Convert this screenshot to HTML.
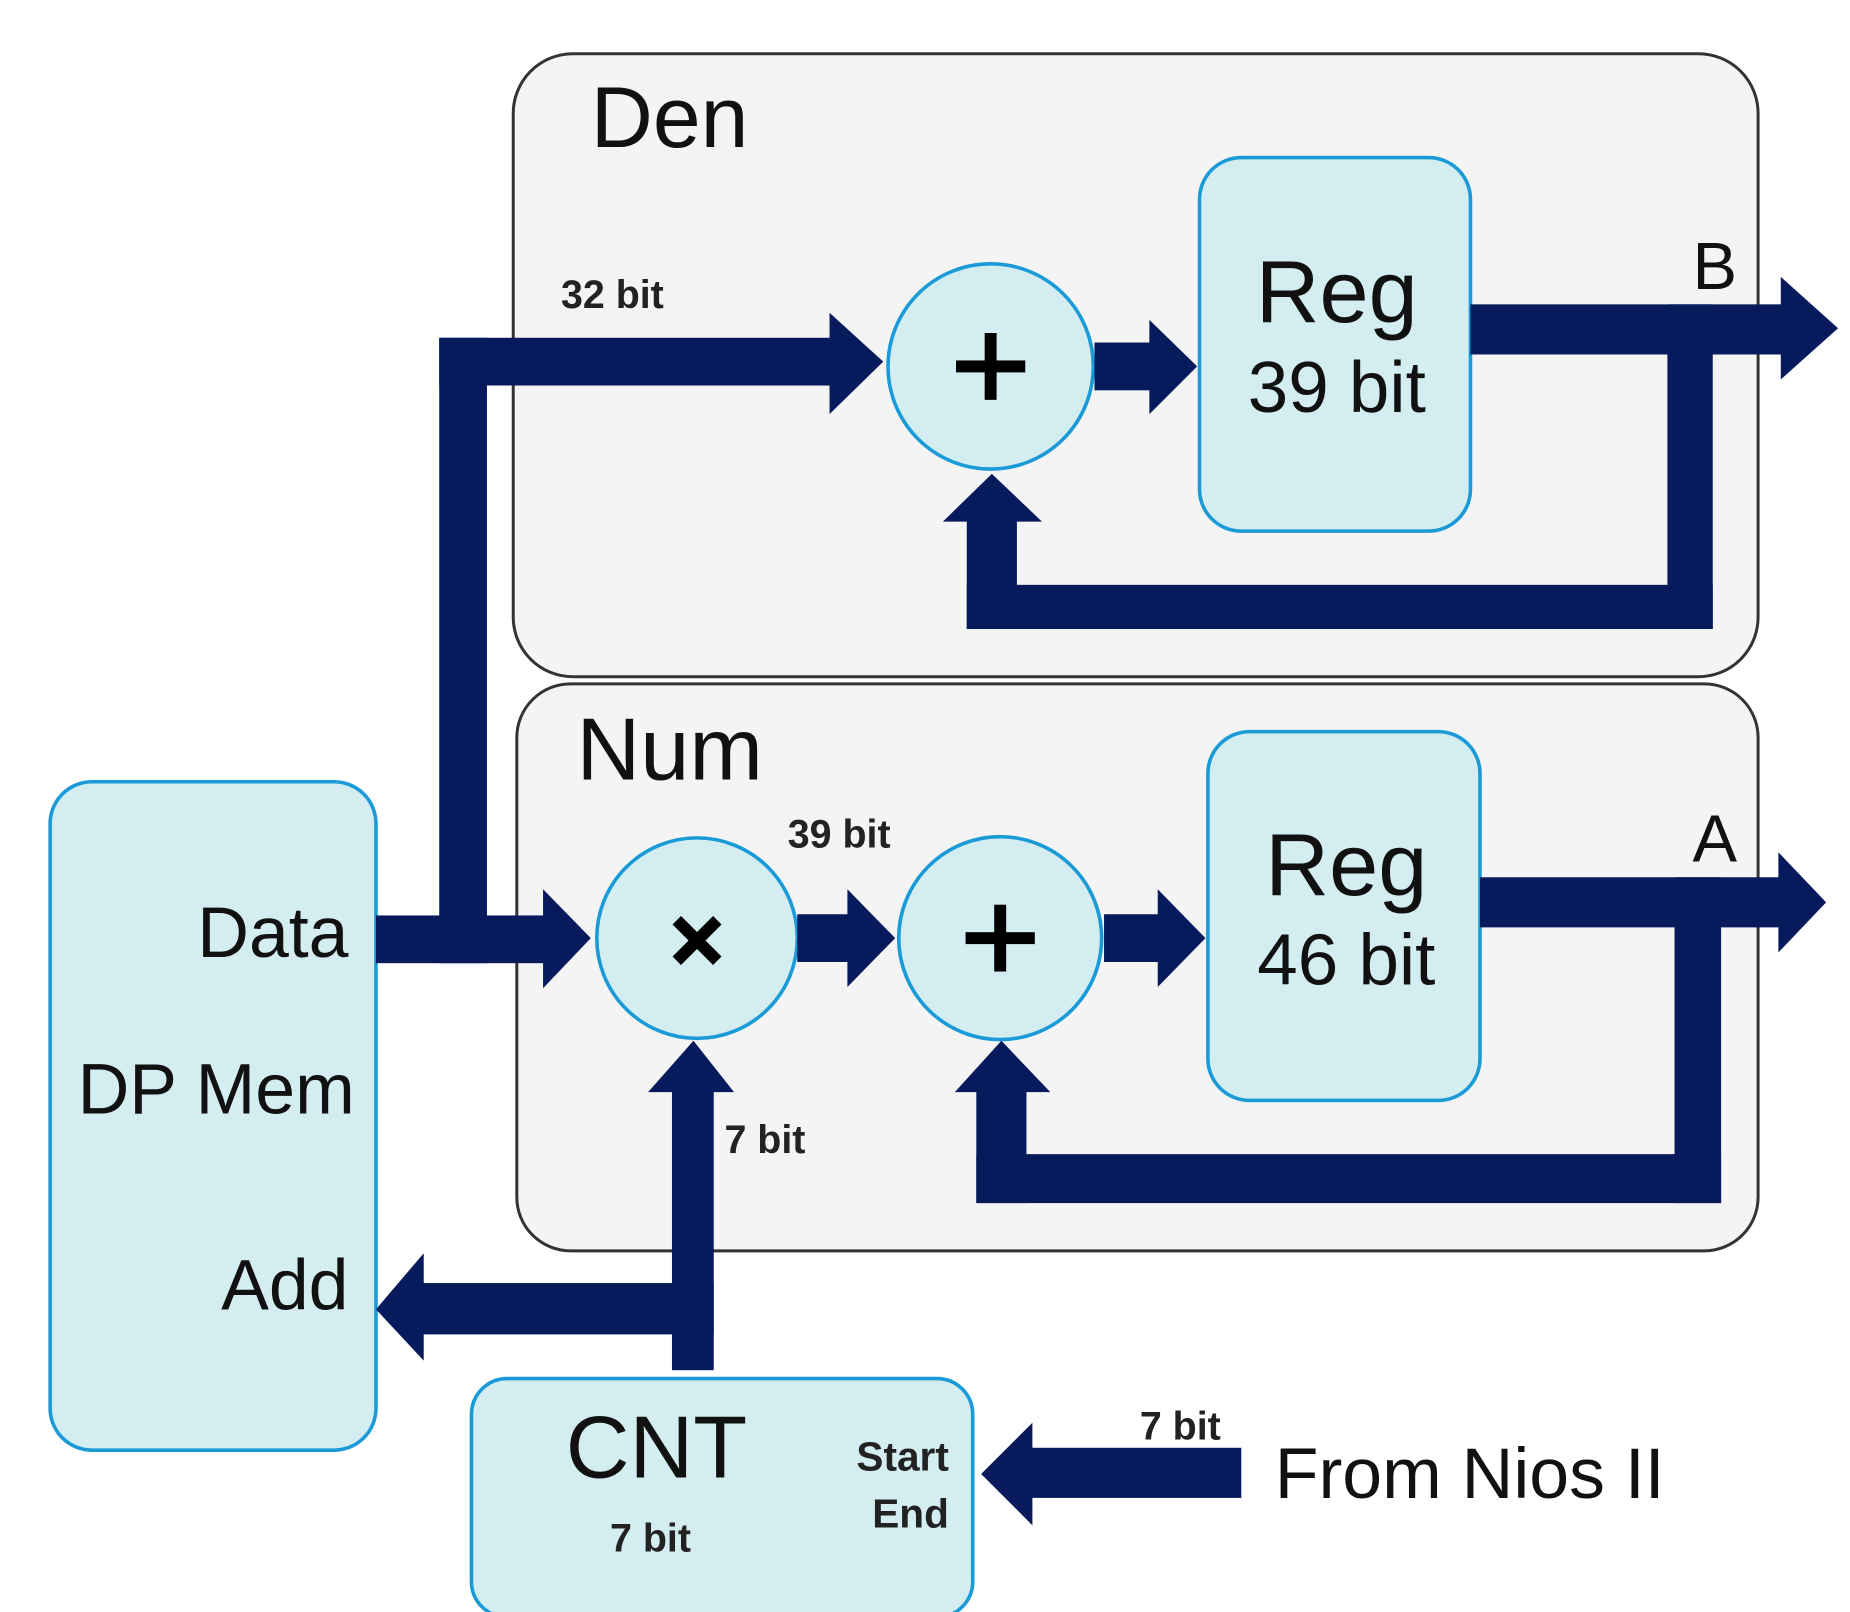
<!DOCTYPE html>
<html><head><style>html,body{margin:0;padding:0;background:#fff;}svg{display:block}</style></head>
<body>
<svg width="1850" height="1612" viewBox="0 0 1550 1350.6" preserveAspectRatio="none" xmlns="http://www.w3.org/2000/svg" font-family="Liberation Sans, Arial, sans-serif">
<rect x="430" y="45" width="1043" height="522" rx="50" fill="#f4f4f4" stroke="#333" stroke-width="2.5"/>
<rect x="433" y="573" width="1040" height="475" rx="45" fill="#f4f4f4" stroke="#333" stroke-width="2.5"/>
<g fill="#d4edf1" stroke="#1a9ad6" stroke-width="3">
<rect x="42" y="655" width="273" height="560" rx="35"/>
<rect x="395" y="1155" width="420" height="200" rx="30"/>
<rect x="1005" y="132" width="227" height="313" rx="35"/>
<rect x="1012" y="613" width="228" height="309" rx="35"/>
<circle cx="830" cy="307" r="86"/>
<circle cx="584" cy="786" r="84"/>
<circle cx="838" cy="786" r="85"/>
</g>
<g fill="#061a5c">
<rect x="315" y="767" width="142" height="40"/>
<polygon points="455,745 495,786 455,828"/>
<rect x="368" y="283" width="40" height="524"/>
<rect x="368" y="283" width="329" height="40"/>
<polygon points="695,262 740,303 695,347"/>
<rect x="917" y="287" width="48" height="40"/>
<polygon points="963,268 1003,307 963,347"/>
<rect x="1232" y="255" width="262" height="42"/>
<polygon points="1492,232 1540,275 1492,318"/>
<rect x="1397" y="255" width="38" height="272"/>
<rect x="810" y="490" width="625" height="37"/>
<rect x="810" y="435" width="42" height="92"/>
<polygon points="790,437 831,397 873,437"/>
<rect x="668" y="766" width="44" height="40"/>
<polygon points="710,745 750,786 710,827"/>
<rect x="925" y="766" width="47" height="40"/>
<polygon points="970,745 1010,786 970,827"/>
<rect x="1240" y="735" width="252" height="42"/>
<polygon points="1490,714 1530,756 1490,798"/>
<rect x="1403" y="735" width="39" height="273"/>
<rect x="818" y="967" width="624" height="41"/>
<rect x="818" y="913" width="42" height="95"/>
<polygon points="800,915 839,872 880,915"/>
<rect x="563" y="913" width="35" height="235"/>
<polygon points="543,915 581,872 615,915"/>
<rect x="353" y="1075" width="245" height="43"/>
<polygon points="355,1050 315,1097 355,1140"/>
<rect x="863" y="1213" width="177" height="42"/>
<polygon points="865,1192 822,1235 865,1278"/>
</g>
<g fill="#000">
<rect x="801" y="302" width="58" height="10"/>
<rect x="825" y="279" width="10" height="56"/>
<rect x="809" y="781" width="58" height="10"/>
<rect x="833" y="758" width="10" height="56"/>
<g transform="translate(584,788) rotate(45)"><rect x="-24" y="-5" width="48" height="10"/><rect x="-5" y="-24" width="10" height="48"/></g>
</g>
<g fill="#111">
<text x="495" y="123" font-size="72">Den</text>
<text x="483" y="653" font-size="74">Num</text>
<text x="470" y="258" font-size="33" font-weight="bold" fill="#222">32 bit</text>
<text x="1120" y="270" font-size="74" text-anchor="middle">Reg</text>
<text x="1120" y="345" font-size="61" text-anchor="middle">39 bit</text>
<text x="1128" y="750" font-size="74" text-anchor="middle">Reg</text>
<text x="1128" y="825" font-size="61" text-anchor="middle">46 bit</text>
<text x="1418" y="242" font-size="56">B</text>
<text x="1418" y="722" font-size="56">A</text>
<text x="660" y="710" font-size="33" font-weight="bold" fill="#222">39 bit</text>
<text x="607" y="966" font-size="33" font-weight="bold" fill="#222">7 bit</text>
<text x="292" y="802" font-size="60" text-anchor="end">Data</text>
<text x="65" y="933" font-size="60">DP Mem</text>
<text x="292" y="1097" font-size="60" text-anchor="end">Add</text>
<text x="550" y="1238" font-size="74" text-anchor="middle">CNT</text>
<text x="545" y="1300" font-size="33" font-weight="bold" fill="#222" text-anchor="middle">7 bit</text>
<text x="795" y="1232" font-size="34" font-weight="bold" fill="#222" text-anchor="end">Start</text>
<text x="795" y="1280" font-size="34" font-weight="bold" fill="#222" text-anchor="end">End</text>
<text x="955" y="1206" font-size="33" font-weight="bold" fill="#222">7 bit</text>
<text x="1068" y="1255" font-size="60">From Nios II</text>
</g>
</svg>
</body></html>
